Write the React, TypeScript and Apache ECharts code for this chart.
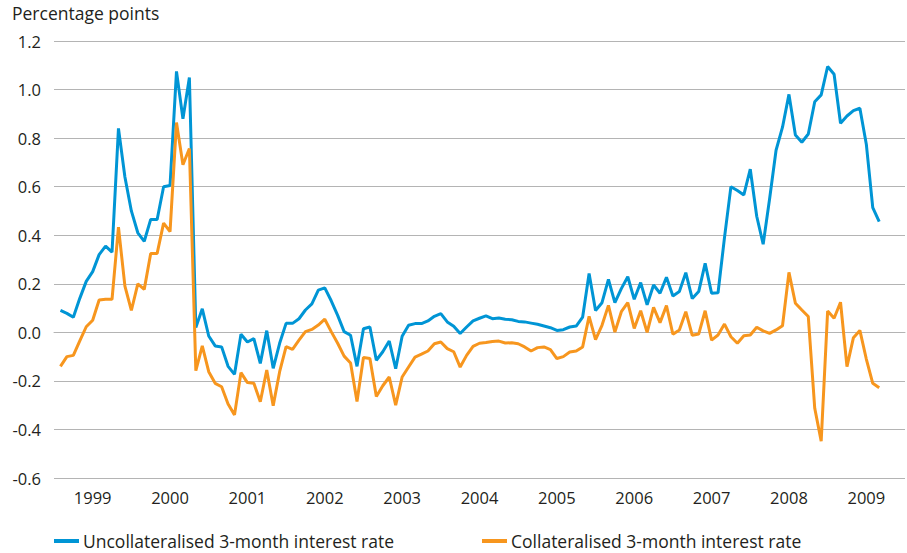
import React, { useEffect, useRef } from "react";
import * as echarts from "echarts";

const years = ["1999", "2000", "2001", "2002", "2003", "2004", "2005", "2006", "2007", "2008", "2009"];
const startYear = 1999;

// Monthly observations, Jan 1999 - Aug 2009
const uncollateralised = [
  0.09, 0.078, 0.062, 0.14, 0.21, 0.25, 0.32, 0.355, 0.33, 0.84, 0.64, 0.5,
  0.41, 0.375, 0.465, 0.465, 0.6, 0.605, 1.075, 0.88, 1.05, 0.02, 0.097, -0.015,
  -0.056, -0.06, -0.14, -0.173, -0.008, -0.04, -0.026, -0.128, 0.007, -0.148, -0.045, 0.037,
  0.037, 0.056, 0.092, 0.117, 0.174, 0.183, 0.13, 0.07, 0.003, -0.012, -0.14, 0.015,
  0.022, -0.115, -0.08, -0.036, -0.15, -0.016, 0.029, 0.036, 0.036, 0.047, 0.066, 0.077,
  0.043, 0.025, -0.005, 0.022, 0.047, 0.058, 0.068, 0.056, 0.059, 0.054, 0.052, 0.045,
  0.043, 0.038, 0.033, 0.026, 0.019, 0.008, 0.011, 0.022, 0.026, 0.063, 0.242, 0.09,
  0.122, 0.218, 0.122, 0.18, 0.229, 0.136, 0.205, 0.113, 0.195, 0.161, 0.227, 0.15,
  0.168, 0.246, 0.139, 0.168, 0.284, 0.161, 0.163, 0.39, 0.6, 0.584, 0.566, 0.672,
  0.478, 0.363, 0.55, 0.75, 0.845, 0.98, 0.813, 0.783, 0.817, 0.95, 0.978, 1.095,
  1.063, 0.861, 0.891, 0.913, 0.923, 0.775, 0.514, 0.456,
];

const collateralised = [
  -0.14, -0.1, -0.095, -0.035, 0.023, 0.05, 0.133, 0.136, 0.136, 0.433, 0.19, 0.09,
  0.2, 0.177, 0.325, 0.325, 0.45, 0.415, 0.864, 0.69, 0.757, -0.158, -0.056, -0.162,
  -0.21, -0.224, -0.295, -0.34, -0.166, -0.207, -0.21, -0.286, -0.155, -0.302, -0.162, -0.059,
  -0.07, -0.032, 0.003, 0.012, 0.03, 0.054, 0.003, -0.045, -0.098, -0.126, -0.285, -0.104,
  -0.108, -0.264, -0.22, -0.184, -0.3, -0.184, -0.143, -0.102, -0.09, -0.077, -0.047, -0.04,
  -0.067, -0.08, -0.143, -0.095, -0.058, -0.045, -0.042, -0.038, -0.036, -0.044, -0.043, -0.047,
  -0.06, -0.077, -0.063, -0.06, -0.071, -0.108, -0.1, -0.081, -0.077, -0.06, 0.066, -0.03,
  0.029, 0.111, 0.001, 0.085, 0.122, 0.016, 0.089, 0.0, 0.103, 0.04, 0.11, -0.008,
  0.01, 0.085, -0.012, -0.007, 0.089, -0.032, -0.011, 0.034, -0.018, -0.045, -0.014, -0.011,
  0.021, 0.006, -0.004, 0.01, 0.027, 0.247, 0.12, 0.092, 0.065, -0.313, -0.448, 0.088,
  0.058, 0.124, -0.141, -0.022, 0.008, -0.11, -0.21, -0.228,
];

const seriesNames = ["Uncollateralised 3-month interest rate", "Collateralised 3-month interest rate"];
const yTitle = "Percentage points";

const FONT = "'Open Sans', 'Noto Sans', sans-serif";
const TEXT = "#231f20";
const GRID = "#b4b4b4";
const BLUE = "#0095d5";
const ORANGE = "#f7961e";

const toPairs = (arr: number[]) => arr.map((v, i) => [startYear + (i + 1) / 12, v]);

export default function App() {
  const ref = useRef<HTMLDivElement>(null);
  useEffect(() => {
    if (!ref.current) return;
    const chart = echarts.init(ref.current, undefined, { renderer: "svg" });
    chart.setOption({
      animation: false,
      textStyle: { fontFamily: FONT },
      grid: { left: 54, right: 2, top: 41, bottom: 75, containLabel: false },
      graphic: [
        {
          type: "text",
          left: 12,
          top: 4,
          style: { text: yTitle, fontSize: 17.5, fill: TEXT, fontFamily: FONT },
        },
      ],
      legend: {
        left: 54,
        top: 531,
        padding: 0,
        icon: "rect",
        itemWidth: 25,
        itemHeight: 4,
        itemGap: 88,
        textStyle: { fontSize: 17.5, lineHeight: 20, color: TEXT, fontFamily: FONT, padding: [0, 0, 0, -1] },
        data: seriesNames,
      },
      xAxis: [
        {
          type: "category",
          data: years,
          boundaryGap: true,
          axisLine: { lineStyle: { color: GRID, width: 1 } },
          axisTick: { inside: true, length: 6, lineStyle: { color: GRID } },
          axisLabel: { fontSize: 16.5, color: TEXT, margin: 11, fontFamily: FONT },
          splitLine: { show: false },
        },
        {
          type: "value",
          min: startYear,
          max: startYear + years.length,
          show: false,
          splitLine: { show: false },
        },
      ],
      yAxis: {
        type: "value",
        min: -0.6,
        max: 1.2,
        interval: 0.2,
        axisLine: { show: false },
        axisTick: { show: false },
        axisLabel: {
          fontSize: 16.5,
          color: TEXT,
          margin: 13,
          fontFamily: FONT,
          formatter: (v: number) => v.toFixed(1),
        },
        splitLine: { lineStyle: { color: GRID, width: 1 } },
      },
      series: [
        {
          name: seriesNames[0],
          type: "line",
          xAxisIndex: 1,
          data: toPairs(uncollateralised),
          showSymbol: false,
          lineStyle: { color: BLUE, width: 3 },
          itemStyle: { color: BLUE },
        },
        {
          name: seriesNames[1],
          type: "line",
          xAxisIndex: 1,
          data: toPairs(collateralised),
          showSymbol: false,
          lineStyle: { color: ORANGE, width: 3 },
          itemStyle: { color: ORANGE },
        },
      ],
    });
    return () => chart.dispose();
  }, []);
  return (
    <div
      ref={ref}
      style={{ position: "absolute", left: 0, top: 0, width: 907, height: 553, background: "#fff" }}
    />
  );
}
